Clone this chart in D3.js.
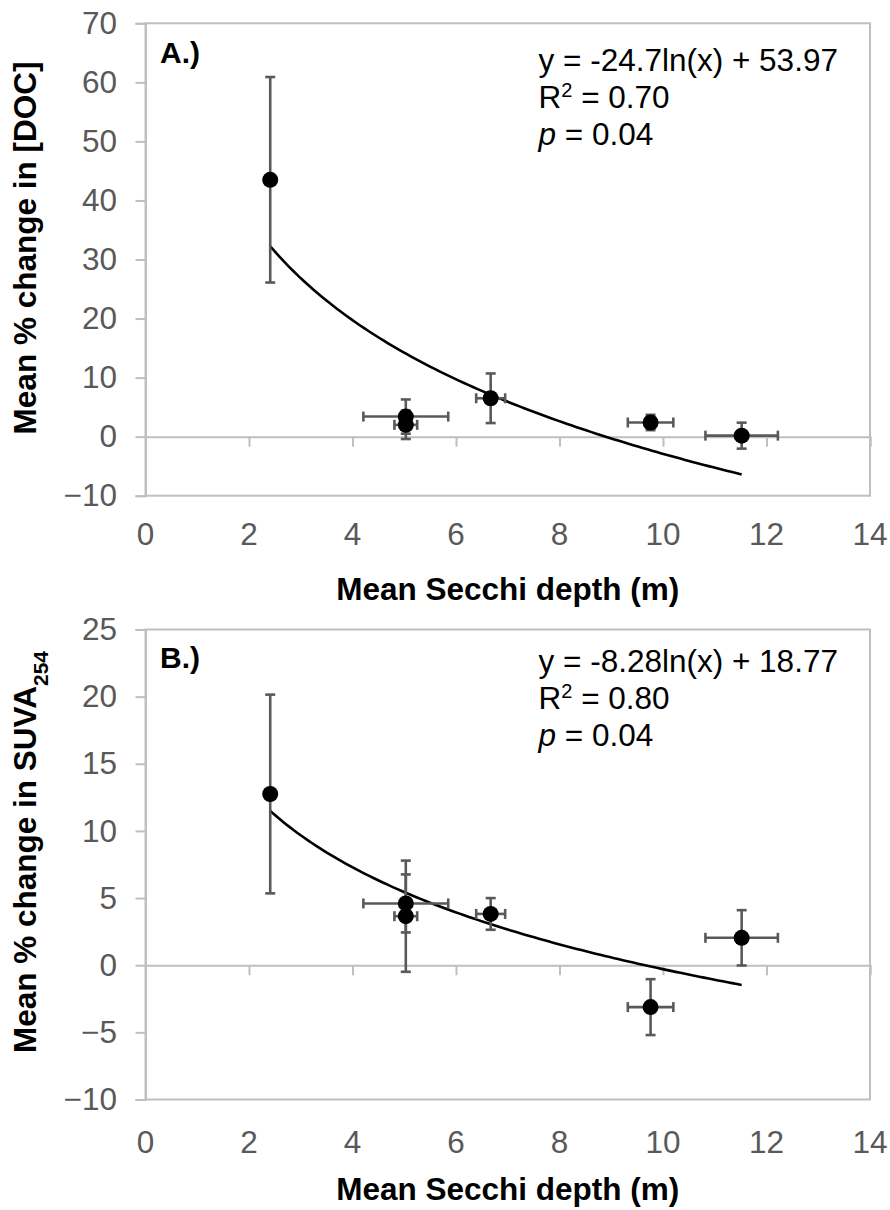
<!DOCTYPE html>
<html>
<head>
<meta charset="utf-8">
<script src="https://cdn.jsdelivr.net/npm/d3@7/dist/d3.min.js"></script>
<style>
  body { margin: 0; background: #fff; }
  svg { display: block; }
  text { font-family: "Liberation Sans", Arial, sans-serif; }
</style>
</head>
<body>
<svg id="chart" width="890" height="1210"></svg>
<script>
// lakes: mean secchi depth (m) with sd, same x for both panels
const secchi     = [2.41, 5.03, 5.03, 6.67, 9.76, 11.52];
const secchiErr  = [0,    0.82, 0.22, 0.28, 0.44, 0.70];

// panel A: mean % change in DOC
const docChange  = [43.5, 3.4, 2.0, 6.5, 2.4, 0.17];
const docErr     = [17.4, 2.9, 2.4, 4.2, 1.3, 2.2];
const docFit     = [-24.7, 53.97];   // y = a ln(x) + b

// panel B: mean % change in SUVA254
const suvaChange = [12.75, 4.6, 3.65, 3.82, -3.12, 2.04];
const suvaErr    = [7.4,   2.16, 4.14, 1.18, 2.08, 2.06];
const suvaFit    = [-8.28, 18.77];

const xTicks    = [0, 2, 4, 6, 8, 10, 12, 14];
const docTicks  = [-10, 0, 10, 20, 30, 40, 50, 60, 70];
const suvaTicks = [-10, -5, 0, 5, 10, 15, 20, 25];

const svg = d3.select("#chart");
const left = 145.5, right = 870;
const gridCol = "#bfbfbf", labCol = "#595959", errCol = "#595959";
const fs = 31.5;

const x = d3.scaleLinear().domain([0, 14]).range([left, right]);

const panels = [
  { tag: "A.)", top: 23.3, bottom: 495.7, ticks: docTicks, vals: docChange, err: docErr, fit: docFit,
    eq: ["-24.7", "53.97"], r2: "0.70", p: "0.04", yTitle: ["Mean % change in [DOC]"], titleY: 248,
    tagY: 63, eqY: 70.5, xLabY: 545, xTitleY: 600 },
  { tag: "B.)", top: 629.5, bottom: 1099.5, ticks: suvaTicks, vals: suvaChange, err: suvaErr, fit: suvaFit,
    eq: ["-8.28", "18.77"], r2: "0.80", p: "0.04", yTitle: ["Mean % change in SUVA", "254"], titleY: 852,
    tagY: 668, eqY: 671.5, xLabY: 1153, xTitleY: 1200 }
];

panels.forEach(pn => {
  const y = d3.scaleLinear()
    .domain([pn.ticks[0], pn.ticks[pn.ticks.length - 1]])
    .range([pn.bottom, pn.top]);
  const g = svg.append("g");

  // plot frame
  g.append("rect")
    .attr("x", left).attr("y", pn.top)
    .attr("width", right - left).attr("height", pn.bottom - pn.top)
    .attr("fill", "none").attr("stroke", gridCol).attr("stroke-width", 2);

  // y axis with labels
  const yAxis = d3.axisLeft(y).tickValues(pn.ticks).tickSize(10).tickPadding(18.5);
  const ya = g.append("g").attr("transform", `translate(${left},0)`).call(yAxis);
  ya.select(".domain").attr("stroke", gridCol).attr("stroke-width", 2);
  ya.selectAll(".tick line").attr("stroke", gridCol).attr("stroke-width", 2);
  ya.selectAll(".tick text").attr("fill", labCol).style("font-size", fs + "px")
    .style("font-family", "'Liberation Sans', Arial, sans-serif");

  // x axis line sits on y = 0, labels at the bottom
  const xAxis = d3.axisBottom(x).tickValues(xTicks).tickSize(10).tickFormat("");
  const xa = g.append("g").attr("transform", `translate(0,${y(0)})`).call(xAxis);
  xa.select(".domain").attr("stroke", gridCol).attr("stroke-width", 2);
  xa.selectAll(".tick line").attr("stroke", gridCol).attr("stroke-width", 2);

  g.selectAll("text.xlab").data(xTicks).join("text")
    .attr("class", "xlab")
    .attr("x", d => x(d)).attr("y", pn.xLabY)
    .attr("text-anchor", "middle").attr("fill", labCol)
    .style("font-size", fs + "px")
    .text(d => d);

  // x title
  g.append("text")
    .attr("x", (left + right) / 2).attr("y", pn.xTitleY)
    .attr("text-anchor", "middle").attr("font-weight", "bold")
    .style("font-size", fs + "px")
    .text("Mean Secchi depth (m)");

  // y title
  const yt = g.append("text")
    .attr("transform", `translate(35.5,${pn.titleY}) rotate(-90)`)
    .attr("text-anchor", "middle").attr("font-weight", "bold")
    .style("font-size", fs + "px")
    .text(pn.yTitle[0]);
  if (pn.yTitle[1]) {
    yt.append("tspan").attr("baseline-shift", "sub").style("font-size", "21px").text(pn.yTitle[1]);
  }

  // trend line from the fitted equation, over the data range
  const x0 = d3.min(secchi), x1 = d3.max(secchi);
  const xs = d3.range(0, 101).map(i => x0 + (x1 - x0) * i / 100);
  const line = d3.line().x(d => x(d)).y(d => y(pn.fit[0] * Math.log(d) + pn.fit[1]));
  g.append("path").datum(xs).attr("d", line)
    .attr("fill", "none").attr("stroke", "#000").attr("stroke-width", 2.6);

  // error bars
  const cap = 5;
  const pts = secchi.map((sx, i) => ({ sx, ex: secchiErr[i], v: pn.vals[i], ev: pn.err[i] }));
  const eb = g.append("g").attr("stroke", errCol).attr("stroke-width", 2.6).attr("fill", "none");
  pts.forEach(d => {
    if (d.ev > 0) {
      eb.append("line").attr("x1", x(d.sx)).attr("x2", x(d.sx)).attr("y1", y(d.v - d.ev)).attr("y2", y(d.v + d.ev));
      [d.v - d.ev, d.v + d.ev].forEach(e =>
        eb.append("line").attr("x1", x(d.sx) - cap).attr("x2", x(d.sx) + cap).attr("y1", y(e)).attr("y2", y(e)));
    }
    if (d.ex > 0) {
      eb.append("line").attr("x1", x(d.sx - d.ex)).attr("x2", x(d.sx + d.ex)).attr("y1", y(d.v)).attr("y2", y(d.v));
      [d.sx - d.ex, d.sx + d.ex].forEach(e =>
        eb.append("line").attr("x1", x(e)).attr("x2", x(e)).attr("y1", y(d.v) - cap).attr("y2", y(d.v) + cap));
    }
  });

  // markers
  g.selectAll("circle.pt").data(pts).join("circle")
    .attr("class", "pt")
    .attr("cx", d => x(d.sx)).attr("cy", d => y(d.v)).attr("r", 8)
    .attr("fill", "#000");

  // panel tag
  g.append("text").attr("x", 160).attr("y", pn.tagY)
    .attr("font-weight", "bold").style("font-size", "30px").text(pn.tag);

  // equation block
  const eqX = 538.5, lh = 37;
  g.append("text").attr("x", eqX).attr("y", pn.eqY).style("font-size", fs + "px")
    .text(`y = ${pn.eq[0]}ln(x) + ${pn.eq[1]}`);
  const r2 = g.append("text").attr("x", eqX).attr("y", pn.eqY + lh).style("font-size", fs + "px").text("R");
  r2.append("tspan").attr("baseline-shift", "super").style("font-size", "20px").text("2");
  r2.append("tspan").text(" = " + pn.r2);
  const pt = g.append("text").attr("x", eqX).attr("y", pn.eqY + 2 * lh).style("font-size", fs + "px");
  pt.append("tspan").attr("font-style", "italic").text("p");
  pt.append("tspan").text(" = " + pn.p);
});
</script>
</body>
</html>
